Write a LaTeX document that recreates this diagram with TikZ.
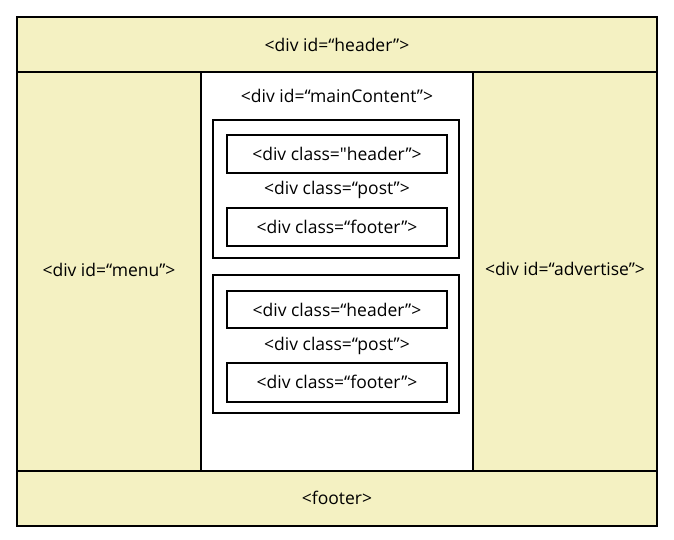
\documentclass[tikz,border=0pt]{standalone}
\usepackage{fontspec}
\setmainfont{Open Sans}
\definecolor{pale}{RGB}{244,241,194}
\begin{document}
\begin{tikzpicture}[x=1pt,y=-1pt,
  lbl/.style={font=\fontsize{17.5}{20}\selectfont, inner sep=0pt},
  band/.style={fill=pale, draw=black, line width=1.5pt},
  boxline/.style={draw=black, line width=1.5pt},
]
\useasboundingbox (0,0) rectangle (674,539);
% bands
\path[band] (17,17) rectangle (657,72);
\path[band] (17,72) rectangle (201,471);
\path[fill=white, draw=black, line width=1.5pt] (201,72) rectangle (473,471);
\path[band] (473,72) rectangle (657,471);
\path[band] (17,471) rectangle (657,526);
\draw[line width=2pt] (17,17) rectangle (657,526);
% post 1
\draw[boxline] (213,120) rectangle (459,258);
\draw[boxline] (227,135) rectangle (447,173);
\draw[boxline] (227,208) rectangle (447,246);
% post 2
\draw[boxline] (213,275) rectangle (459,413);
\draw[boxline] (227,291) rectangle (447,328);
\draw[boxline] (227,363) rectangle (447,402);
% labels
\node[lbl] (hdr) at (337,45) {<div id=“header”>};
\node[lbl] (main) at (337,96) {<div id=“mainContent”>};
\node[lbl] (menu) at (109,270) {<div id=“menu”>};
\node[lbl] (adv) at (565,269) {<div id=“advertise”>};
\node[lbl] (ftr) at (337,498) {<footer>};
\node[lbl] (h1) at (337,154) {<div class=″header”>};
\node[lbl] (p1) at (337,190) {<div class=“post”>};
\node[lbl] (f1) at (337,227) {<div class=“footer”>};
\node[lbl] (h2) at (337,310) {<div class=“header”>};
\node[lbl] (p2) at (337,346) {<div class=“post”>};
\node[lbl] (f2) at (337,382) {<div class=“footer”>};
\end{tikzpicture}
\end{document}
